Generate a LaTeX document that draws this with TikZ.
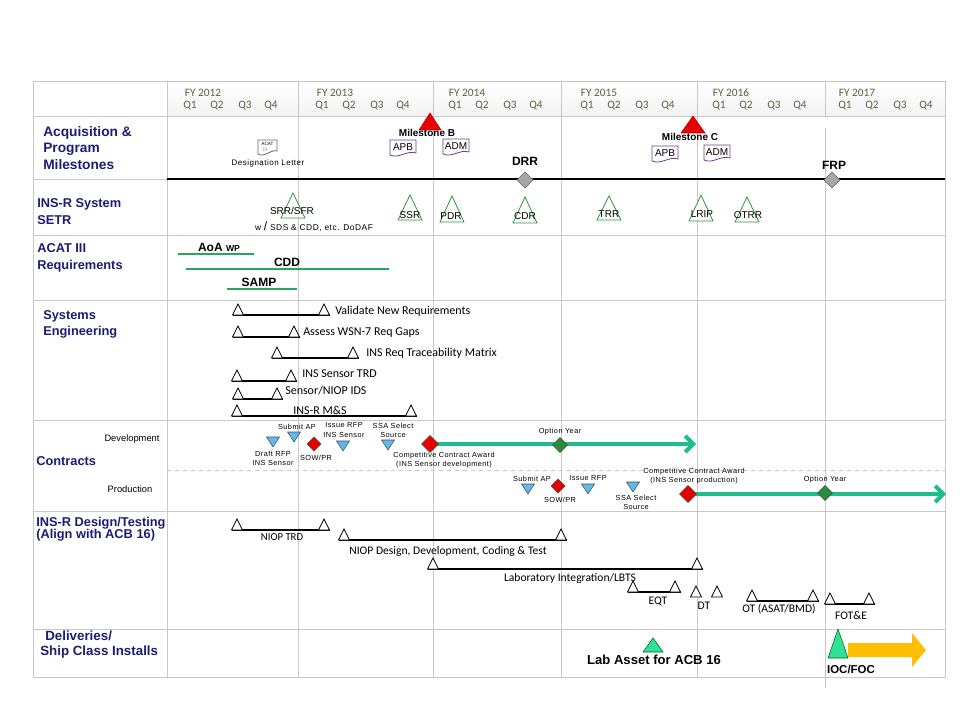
\documentclass[tikz,border=0pt]{standalone}
\usepackage{fontspec}
\setmainfont{Liberation Sans}
\newfontfamily\calib{Carlito}
\newfontfamily\spaced[LetterSpace=6]{Liberation Sans}
\usetikzlibrary{arrows.meta}
\definecolor{navy}{RGB}{28,28,118}
\definecolor{gridc}{RGB}{200,200,200}
\definecolor{hdr}{RGB}{95,95,62}
\definecolor{setrg}{RGB}{50,150,60}
\definecolor{reqg}{RGB}{40,165,95}
\definecolor{contg}{RGB}{30,190,140}
\definecolor{optg}{RGB}{40,140,60}
\definecolor{skyb}{RGB}{95,185,235}
\definecolor{docp}{RGB}{112,60,150}
\definecolor{iocg}{RGB}{45,225,150}
\definecolor{goldy}{RGB}{255,190,0}
\definecolor{msred}{RGB}{230,0,0}
\newcommand\seline[3]{%
  \draw[blk] ({#1-5.5},#3) -- ({#2+5.5},#3);
  \draw[otri] ({#1-5.5},#3) -- (#1,{#3-11}) -- ({#1+5.5},#3) -- cycle;
  \draw[otri] ({#2-5.5},#3) -- (#2,{#3-11}) -- ({#2+5.5},#3) -- cycle;}
\newcommand\twotri[3]{%
  \draw[otri] ({#1-5.5},#3) -- (#1,{#3-11}) -- ({#1+5.5},#3) -- cycle;
  \draw[otri] ({#2-5.5},#3) -- (#2,{#3-11}) -- ({#2+5.5},#3) -- cycle;}
\newcommand\setri[3]{% x, apex y, base y
  \draw[setri] ({#1-12},#3) -- (#1,#2) -- ({#1+12},#3) -- cycle;}
\newcommand\itri[2]{%
  \draw[itri] ({#1-6.5},{#2-5}) -- ({#1+6.5},{#2-5}) -- (#1,{#2+5}) -- cycle;}
\newcommand\dia[4]{%
  \draw[#1] ({#2-#4},#3) -- (#2,{#3-#4}) -- ({#2+#4},#3) -- (#2,{#3+#4}) -- cycle;}
\newcommand\docu[4]{% name, x, y, label
  \draw[docst] ({#2-13},{#3-8}) -- ({#2+13},{#3-8}) -- ({#2+13},{#3+5})
     .. controls ({#2+4},{#3+2}) and ({#2-4},{#3+11}) .. ({#2-13},{#3+7}) -- cycle;
  \node[doctxt] (#1) at (#2,{#3-1}) {#4};}
\begin{document}
\begin{tikzpicture}[x=0.75pt,y=-0.75pt,
  grid/.style={draw=gridc, line width=0.6pt},
  blk/.style={draw=black, line width=0.8pt},
  otri/.style={draw=black, fill=white, line width=0.6pt},
  setri/.style={draw=setrg, fill=white, line width=0.6pt},
  itri/.style={draw=black!70, fill=skyb, line width=0.4pt},
  reddia/.style={draw=black!70, fill=msred, line width=0.4pt},
  optdia/.style={draw=black!70, fill=optg, line width=0.4pt},
  graydia/.style={draw=black!60, fill=black!35, line width=0.4pt},
  docst/.style={draw=docp, fill=white, line width=0.6pt},
  doctxt/.style={inner sep=0pt, font=\fontsize{7.5}{8}\selectfont},
  rowlab/.style={anchor=west, inner sep=0pt, text=navy, font=\fontsize{9.6}{11}\selectfont\bfseries},
  hdrtxt/.style={inner sep=0pt, text=hdr, font=\calib\fontsize{8.5}{10}\selectfont},
  caltxt/.style={inner sep=0pt, font=\calib\fontsize{9}{10}\selectfont},
  destxt/.style={inner sep=0pt, font=\calib\fontsize{8.7}{10}\selectfont},
  ctxt/.style={inner sep=0pt, align=center, font=\spaced\fontsize{5.5}{6.8}\selectfont},
  clab/.style={inner sep=0pt, font=\fontsize{7}{8}\selectfont},
  setrtxt/.style={inner sep=0pt, font=\fontsize{7.5}{8}\selectfont},
  reqline/.style={draw=reqg, line width=1.5pt},
  reqtxt/.style={inner sep=0pt, font=\fontsize{9}{10}\selectfont\bfseries},
  contarrow/.style={draw=contg, line width=3pt, -{Straight Barb[length=6pt,width=12pt]}},
  mstxt/.style={inner sep=0pt, font=\fontsize{7.5}{8}\selectfont\bfseries},
  bigtxt/.style={inner sep=0pt, font=\fontsize{9}{10}\selectfont\bfseries}]
\useasboundingbox (0,0) rectangle (960,720);
\fill[white] (0,0) rectangle (960,720);
% header shading
\foreach \a/\b in {167/298,298/433,433/561,561/697,697/825,825/945}
  \shade[top color=white,bottom color=gray!10] (\a,81) rectangle (\b,116);
% grid
\draw[grid] (33,81) rectangle (945,677);
\foreach \yy in {116,179,235,300,420,511,629}
  \draw[grid] (33,\yy) -- (945,\yy);
\foreach \xx in {167,298,433,561,697}
  \draw[grid] (\xx,81) -- (\xx,677);
\draw[grid] (825,81) -- (825,116);
\draw[grid] (825,128) -- (825,688);
\draw[gridc, dashed, line width=0.5pt] (167,470) -- (945,470);
% header text
\foreach \t/\x in {2012/203,2013/335,2014/467,2015/599,2016/731,2017/857}
  \node[hdrtxt] (fy\t) at (\x,93) {FY \t};
\foreach \o in {0,132,265,397,529,655}{
  \node[hdrtxt] at ({190+\o},106) {Q1};
  \node[hdrtxt] at ({217+\o},106) {Q2};
  \node[hdrtxt] at ({245+\o},106) {Q3};
  \node[hdrtxt] at ({271+\o},106) {Q4};}
% row labels
\node[rowlab, font=\fontsize{10.3}{11}\selectfont\bfseries] (l1a) at (43,133) {Acquisition \&};
\node[rowlab, font=\fontsize{10.3}{11}\selectfont\bfseries] (l1b) at (43,149) {Program};
\node[rowlab, font=\fontsize{10.3}{11}\selectfont\bfseries] (l1c) at (43,165) {Milestones};
\node[rowlab] (l2a) at (37,204) {INS-R System};
\node[rowlab] (l2b) at (37,220) {SETR};
\node[rowlab] (l3a) at (37,248) {ACAT III};
\node[rowlab] (l3b) at (37,266) {Requirements};
\node[rowlab] (l4a) at (43,316) {Systems};
\node[rowlab] (l4b) at (43,332) {Engineering};
\node[rowlab] (l5) at (36,461) {Contracts};
\node[rowlab] (l6a) at (36,523) {INS-R Design/Testing};
\node[rowlab] (l6b) at (36,535) {(Align with ACB 16)};
\node[rowlab, font=\fontsize{10}{11}\selectfont\bfseries] (l7a) at (45,636) {Deliveries/};
\node[rowlab, font=\fontsize{10}{11}\selectfont\bfseries] (l7b) at (40,652) {Ship Class Installs};
\node[clab] (dev) at (132,439) {Development};
\node[clab] (prod) at (130,489) {Production};
% acquisition milestones
\coordinate (msL) at (167,179);
\coordinate (msR) at (945,179);
\draw[black, line width=1.3pt] (msL) -- (msR);
% ACAT letter
\draw[docst, draw=black!60] (258,140) -- (277,140) -- (277,151) .. controls (271,149) and (264,158) .. (258,154) -- cycle;
\node[inner sep=0pt, font=\fontsize{3.5}{4}\selectfont] (acat) at (267.5,143.5) {ACAT};
\node[inner sep=0pt, text=black!40, font=\fontsize{4}{4}\selectfont] (acat3) at (265,150) {III};
\node[ctxt, font=\spaced\fontsize{6}{7}\selectfont] (desig) at (268,163) {Designation Letter};
\draw[msred!80!black, fill=msred, line width=0.4pt] (419,130) -- (430,113) -- (441,130) -- cycle;
\node[mstxt] (msB) at (427,133) {Milestone B};
\docu{apb1}{403}{148}{APB}
\docu{adm1}{456}{147}{ADM}
\draw[msred!80!black, fill=msred, line width=0.4pt] (681,133) -- (693,116) -- (705,133) -- cycle;
\node[mstxt] (msC) at (690,137) {Milestone C};
\docu{apb2}{665}{154}{APB}
\docu{adm2}{717}{153}{ADM}
\node[bigtxt] (drr) at (525,161) {DRR};
\dia{graydia}{525}{180}{8}
\node[bigtxt] (frp) at (834,165) {FRP};
\dia{graydia}{832}{180}{8}
% SETR
\setri{293}{193}{218} \node[setrtxt] (srr) at (292,211) {SRR/SFR};
\node[ctxt, font=\spaced\fontsize{6.3}{7}\selectfont] (sds) at (314,227) {w {\fontsize{9}{9}\selectfont /} SDS \& CDD, etc. DoDAF};
\setri{410}{195}{220} \node[setrtxt] (ssr) at (410,215) {SSR};
\setri{452}{196}{222} \node[setrtxt] (pdr) at (451,216) {PDR};
\setri{525}{197}{223} \node[setrtxt] (cdr) at (525,216) {CDR};
\setri{609}{196}{220} \node[setrtxt] (trr) at (609,214) {TRR};
\setri{701}{195}{221} \node[setrtxt] (lrip) at (702,214) {LRIP};
\setri{747}{197}{222} \node[setrtxt] (otrr) at (748,215) {OTRR};
% requirements
\draw[reqline] (178,254) -- (254,254);
\node[reqtxt] (aoa) at (219,247) {AoA {\fontsize{6.5}{7}\selectfont WP}};
\draw[reqline] (186,269) -- (389,269);
\node[reqtxt] (cdd) at (287,262) {CDD};
\draw[reqline] (227,289) -- (297,289);
\node[reqtxt] (samp) at (259,282) {SAMP};
% systems engineering
\seline{238}{324}{315} \node[caltxt, anchor=west] (se1) at (335,311) {Validate New Requirements};
\seline{238}{294}{337} \node[caltxt, anchor=west] (se2) at (303,333) {Assess WSN-7 Req Gaps};
\seline{277}{353}{358} \node[caltxt, anchor=west] (se3) at (366,353) {INS Req Traceability  Matrix};
\seline{237}{291}{381} \node[caltxt, anchor=west] (se4) at (302,374) {INS Sensor TRD};
\seline{238}{277}{399} \node[caltxt, anchor=west] (se5) at (285,391) {Sensor/NIOP IDS};
\seline{237}{411}{416} \node[caltxt] (se6) at (320,410) {INS-R M\&S};
% contracts development
\coordinate (devAward) at (430,444);
\coordinate (devEnd) at (696,444);
\draw[contarrow] (devAward) -- (devEnd);
\itri{273}{442} \node[ctxt] (draft) at (273,458) {Draft RFP\\INS Sensor};
\itri{294}{437} \node[ctxt] (sub1) at (297,427) {Submit AP};
\dia{reddia}{314}{444}{7} \node[ctxt] (sow1) at (316,458) {SOW/PR};
\itri{343}{446} \node[ctxt] (iss1) at (344,430) {Issue  RFP\\INS Sensor};
\itri{388}{445} \node[ctxt] (ssa1) at (393,430) {SSA Select\\Source};
\dia{reddia}{430}{444}{8.5}
\node[ctxt] (cca1) at (444,460) {Competitive Contract Award\\(INS Sensor development)};
\dia{optdia}{560}{445}{7.5} \node[ctxt] (opt1) at (560,432) {Option Year};
% contracts production
\coordinate (prodAward) at (688,494);
\coordinate (prodEnd) at (946,494);
\draw[contarrow] (prodAward) -- (prodEnd);
\itri{528}{489} \node[ctxt] (sub2) at (532,479) {Submit AP};
\dia{reddia}{558}{486}{7} \node[ctxt] (sow2) at (560,500) {SOW/PR};
\itri{588}{489} \node[ctxt] (iss2) at (588,478) {Issue  RFP};
\itri{633}{487} \node[ctxt] (ssa2) at (636,502) {SSA Select\\Source};
\dia{reddia}{688}{494}{8.5}
\node[ctxt] (cca2) at (694,476) {Competitive Contract Award\\(INS Sensor production)};
\dia{optdia}{825}{493}{7.5} \node[ctxt] (opt2) at (825,480) {Option Year};
% design / testing
\seline{237}{324}{530} \node[destxt, font=\calib\fontsize{8}{9}\selectfont] (niop1) at (282,537) {NIOP TRD};
\seline{344}{561}{540} \node[destxt] (niop2) at (448,551) {NIOP Design, Development,  Coding \& Test};
\seline{433}{697}{569} \node[destxt] (lab) at (570,578) {Laboratory Integration/LBTS};
\seline{633}{675}{592} \node[destxt] (eqt) at (658,601) {EQT};
\twotri{696}{717}{597} \node[destxt] (dt) at (704,606) {DT};
\seline{752}{813}{601} \node[destxt] (ot) at (779,609) {OT (ASAT/BMD)};
\seline{830}{869}{604} \node[destxt] (fote) at (851,616) {FOT\&E};
% deliveries
\draw[draw=green!40!black, fill=iocg, line width=0.4pt] (643,652) -- (653,638) -- (663,652) -- cycle;
\node[inner sep=0pt, font=\fontsize{9.8}{11}\selectfont\bfseries] (labasset) at (654,660) {Lab Asset for ACB 16};
\draw[fill=goldy, draw=none] (848,643) -- (912,643) -- (912,633) -- (926,650) -- (912,667) -- (912,657) -- (848,657) -- cycle;
\draw[draw=green!40!black, fill=iocg, line width=0.4pt] (828,658) -- (838,629) -- (848,658) -- cycle;
\node[inner sep=0pt, font=\fontsize{8.6}{10}\selectfont\bfseries] (ioc) at (851,669) {IOC/FOC};
\end{tikzpicture}
\end{document}
